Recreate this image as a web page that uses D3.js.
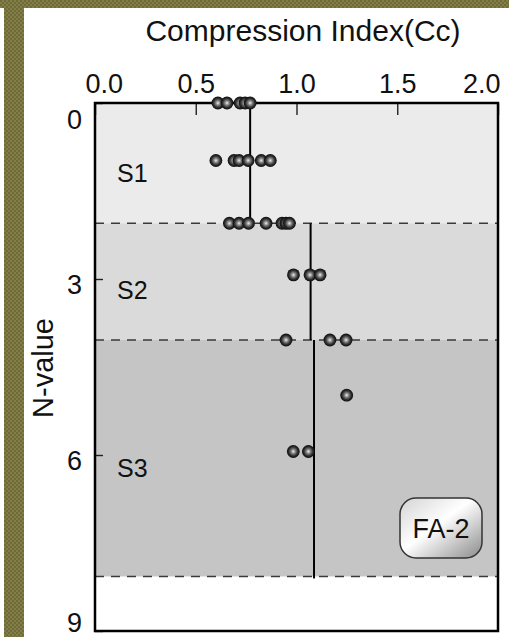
<!DOCTYPE html>
<html>
<head>
<meta charset="utf-8">
<script src="https://cdn.jsdelivr.net/npm/d3@7"></script>
<style>
  html, body { margin: 0; padding: 0; background: #fff; }
  svg { display: block; }
  text { font-family: "Liberation Sans", Arial, Helvetica, sans-serif; fill: #111; }
</style>
</head>
<body>
<svg id="chart" width="509" height="637"></svg>
<script>
// Soil layers: name, top and bottom N-value, median Cc line, fill
const layerNames = ["S1", "S2", "S3"];
const layerTop = [0, 2.05, 4.04];
const layerBottom = [2.05, 4.04, 8.07];
const layerMedian = [0.77, 1.07, 1.087];
const layerFill = ["#ebebeb", "#dadada", "#c5c5c5"];

// Measured compression index (Cc) and the N-value at which each was taken
const pointCc = [
  0.61, 0.655, 0.72, 0.745, 0.77,
  0.60, 0.69, 0.715, 0.76, 0.825, 0.87,
  0.667, 0.715, 0.762, 0.849, 0.928, 0.948, 0.965,
  0.985, 1.067, 1.117,
  0.948, 1.166, 1.246,
  1.249,
  0.984, 1.059
];
const pointN = [
  0, 0, 0, 0, 0,
  0.98, 0.98, 0.98, 0.98, 0.98, 0.98,
  2.05, 2.05, 2.05, 2.05, 2.05, 2.05, 2.05,
  2.93, 2.93, 2.93,
  4.04, 4.04, 4.04,
  4.98,
  5.94, 5.94
];

const xTicks = [0, 0.5, 1.0, 1.5, 2.0];
const yTicks = [0, 3, 6, 9];
const boxLabel = "FA-2";

const svg = d3.select("#chart");
const plotLeft = 95, plotRight = 498, plotTop = 103, plotBottom = 631;

const x = d3.scaleLinear().domain([0, 2]).range([plotLeft, plotRight]);
const y = d3.scaleLinear().domain([0, 9]).range([plotTop, plotBottom]);

const defs = svg.append("defs");

// olive checker texture for the page border
const pat = defs.append("pattern").attr("id", "olive")
  .attr("width", 4).attr("height", 4).attr("patternUnits", "userSpaceOnUse");
pat.append("rect").attr("width", 4).attr("height", 4).attr("fill", "#837e48");
pat.append("rect").attr("width", 2).attr("height", 2).attr("fill", "#6f6b38");
pat.append("rect").attr("x", 2).attr("y", 2).attr("width", 2).attr("height", 2).attr("fill", "#6f6b38");

// shaded sphere for the markers
const rg = defs.append("radialGradient").attr("id", "ball")
  .attr("cx", "50%").attr("cy", "50%").attr("r", "50%");
rg.append("stop").attr("offset", "0%").attr("stop-color", "#eeeeee");
rg.append("stop").attr("offset", "32%").attr("stop-color", "#888");
rg.append("stop").attr("offset", "68%").attr("stop-color", "#333");
rg.append("stop").attr("offset", "100%").attr("stop-color", "#0a0a0a");

// glossy fill for the tag box
const lg = defs.append("linearGradient").attr("id", "gloss")
  .attr("x1", "0%").attr("y1", "0%").attr("x2", "100%").attr("y2", "100%");
lg.append("stop").attr("offset", "0%").attr("stop-color", "#d4d4d4");
lg.append("stop").attr("offset", "45%").attr("stop-color", "#ffffff");
lg.append("stop").attr("offset", "100%").attr("stop-color", "#8a8a8a");

// page border
svg.append("rect").attr("x", 0).attr("y", 0).attr("width", 509).attr("height", 8).attr("fill", "url(#olive)");
svg.append("rect").attr("x", 4).attr("y", 0).attr("width", 20).attr("height", 637).attr("fill", "url(#olive)");

// layer shading
svg.append("g").selectAll("rect").data(layerNames).join("rect")
  .attr("x", plotLeft).attr("width", plotRight - plotLeft)
  .attr("y", (d, i) => y(layerTop[i]))
  .attr("height", (d, i) => y(layerBottom[i]) - y(layerTop[i]))
  .attr("fill", (d, i) => layerFill[i]);

// layer boundaries
svg.append("g").selectAll("line").data(layerBottom).join("line")
  .attr("x1", plotLeft).attr("x2", plotRight)
  .attr("y1", d => y(d)).attr("y2", d => y(d))
  .attr("stroke", "#3a3a3a").attr("stroke-width", 1.6)
  .attr("stroke-dasharray", "9,7");

// median lines per layer
svg.append("g").selectAll("line").data(layerMedian).join("line")
  .attr("x1", d => x(d)).attr("x2", d => x(d))
  .attr("y1", (d, i) => y(layerTop[i]))
  .attr("y2", (d, i) => y(layerBottom[i]) + (i === 2 ? 2 : 0))
  .attr("stroke", "#000").attr("stroke-width", 2);

// axes: inward ticks
const xAxis = svg.append("g").attr("transform", `translate(0,${plotTop})`)
  .call(d3.axisTop(x).tickValues(xTicks).tickFormat(d3.format(".1f")).tickSizeInner(-12).tickSizeOuter(0).tickPadding(10));
xAxis.select(".domain").remove();
xAxis.selectAll("line").attr("stroke", "#222").attr("stroke-width", 1.4);
xAxis.selectAll("text").attr("font-size", 27).attr("fill", "#111").attr("dy", 0)
  // end labels sit inside the frame's span
  .attr("text-anchor", (d, i) => i === 0 ? "start" : i === xTicks.length - 1 ? "end" : "middle")
  .attr("dx", (d, i) => i === 0 ? -10 : i === xTicks.length - 1 ? 2 : 0);

const yAxis = svg.append("g").attr("transform", `translate(${plotLeft},0)`)
  .call(d3.axisLeft(y).tickValues(yTicks).tickFormat(d3.format("d")).tickSizeInner(-8).tickSizeOuter(0).tickPadding(13));
yAxis.select(".domain").remove();
yAxis.selectAll("line").attr("stroke", "#222").attr("stroke-width", 1.4);
// first label hangs below the top edge, last sits above the bottom edge
yAxis.selectAll("text").attr("font-size", 27).attr("fill", "#111")
  .attr("dy", (d, i) => i === 0 ? "0.95em" : i === yTicks.length - 1 ? "0.03em" : "0.55em");

// plot frame
svg.append("rect").attr("x", plotLeft).attr("y", plotTop)
  .attr("width", plotRight - plotLeft).attr("height", plotBottom - plotTop)
  .attr("fill", "none").attr("stroke", "#000").attr("stroke-width", 2.5);

// data points
svg.append("g").selectAll("circle").data(pointCc).join("circle")
  .attr("cx", d => x(d)).attr("cy", (d, i) => y(pointN[i]))
  .attr("r", 6.4).attr("fill", "url(#ball)");

// layer labels
svg.append("g").selectAll("text").data(layerNames).join("text")
  .attr("x", 117)
  .attr("y", (d, i) => [182, 299, 477][i])
  .attr("font-size", 25)
  .text(d => d);

// titles
svg.append("text").attr("x", 303).attr("y", 41).attr("text-anchor", "middle")
  .attr("font-size", 30).text("Compression Index(Cc)");
svg.append("text").attr("transform", "translate(53,368) rotate(-90)")
  .attr("text-anchor", "middle").attr("font-size", 29).text("N-value");

// site tag
const tag = svg.append("g");
tag.append("rect").attr("x", 400).attr("y", 498).attr("width", 82).attr("height", 60)
  .attr("rx", 16).attr("fill", "url(#gloss)").attr("stroke", "#333").attr("stroke-width", 1.5);
tag.append("text").attr("x", 441).attr("y", 538).attr("text-anchor", "middle")
  .attr("font-size", 27).text(boxLabel);
</script>
</body>
</html>
